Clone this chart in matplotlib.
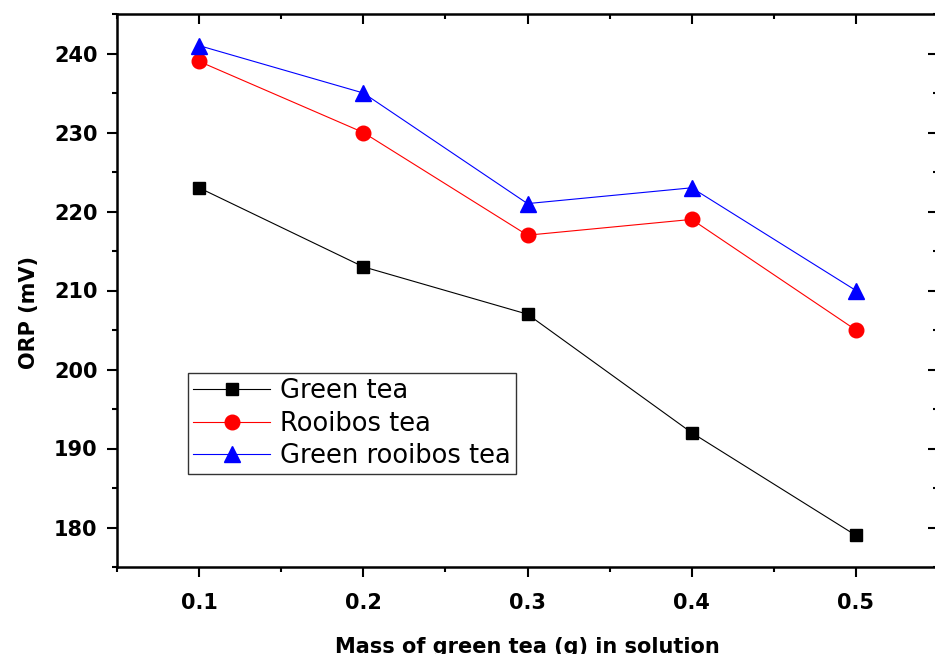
import matplotlib
matplotlib.use("Agg")
import matplotlib.pyplot as plt
from matplotlib.lines import TICKDOWN, TICKLEFT
from matplotlib.ticker import MultipleLocator

# Data
mass = [0.1, 0.2, 0.3, 0.4, 0.5]
green_tea = [223, 213, 207, 192, 179]
rooibos_tea = [239, 230, 217, 219, 205]
green_rooibos_tea = [241, 235, 221, 223, 210]

plt.rcParams["font.family"] = ["DejaVu Sans"]

fig = plt.figure(figsize=(9.35, 6.54), dpi=100)
# axes box: left spine x=117, right spine just past the image edge
ax = fig.add_axes([117 / 935, 1 - 567 / 654, (938 - 117) / 935, (567 - 14) / 654])

ax.plot(mass, green_tea, color="black", lw=0.8, marker="s", ms=9, label="Green tea")
ax.plot(mass, rooibos_tea, color="red", lw=0.8, marker="o", ms=10.5, label="Rooibos tea")
ax.plot(mass, green_rooibos_tea, color="blue", lw=0.8, marker="^", ms=11.5, label="Green rooibos tea")

ax.set_xlim(0.05, 0.55)
ax.set_ylim(175, 245)
ax.xaxis.set_major_locator(MultipleLocator(0.1))
ax.xaxis.set_minor_locator(MultipleLocator(0.05))
ax.yaxis.set_major_locator(MultipleLocator(10))
ax.yaxis.set_minor_locator(MultipleLocator(5))
ax.xaxis.set_major_formatter(plt.FuncFormatter(lambda v, p: f"{v:.1f}"))

for s in ax.spines.values():
    s.set_linewidth(1.8)

ax.tick_params(axis="both", which="major", length=7, width=1.5, labelsize=15)
ax.tick_params(axis="both", which="minor", length=3.5, width=1.5)
ax.tick_params(axis="x", which="major", pad=12)
ax.tick_params(axis="y", which="major", pad=7)
ax.tick_params(top=True, right=True, which="both", direction="out")
for lbl in ax.get_xticklabels() + ax.get_yticklabels():
    lbl.set_fontweight("bold")

# top/right ticks point inward, left/bottom outward
for t in ax.xaxis.get_major_ticks() + ax.xaxis.get_minor_ticks():
    t.tick2line.set_marker(TICKDOWN)
for t in ax.yaxis.get_major_ticks() + ax.yaxis.get_minor_ticks():
    t.tick2line.set_marker(TICKLEFT)

ax.set_xlabel("Mass of green tea (g) in solution", fontsize=15, fontweight="bold", labelpad=17)
ax.set_ylabel("ORP (mV)", fontsize=15, fontweight="bold")
ax.yaxis.set_label_coords(-0.095, 0.461)

leg = ax.legend(loc="upper left", bbox_to_anchor=((188 - 117) / 821, 1 - (373 - 14) / 553),
                fontsize=18.5, frameon=True, fancybox=False, borderaxespad=0,
                handlelength=3.0, handletextpad=0.4, labelspacing=0.25, borderpad=0.2)
leg.get_frame().set_edgecolor("black")
leg.get_frame().set_linewidth(1.0)

fig.savefig("out.png", dpi=100)
